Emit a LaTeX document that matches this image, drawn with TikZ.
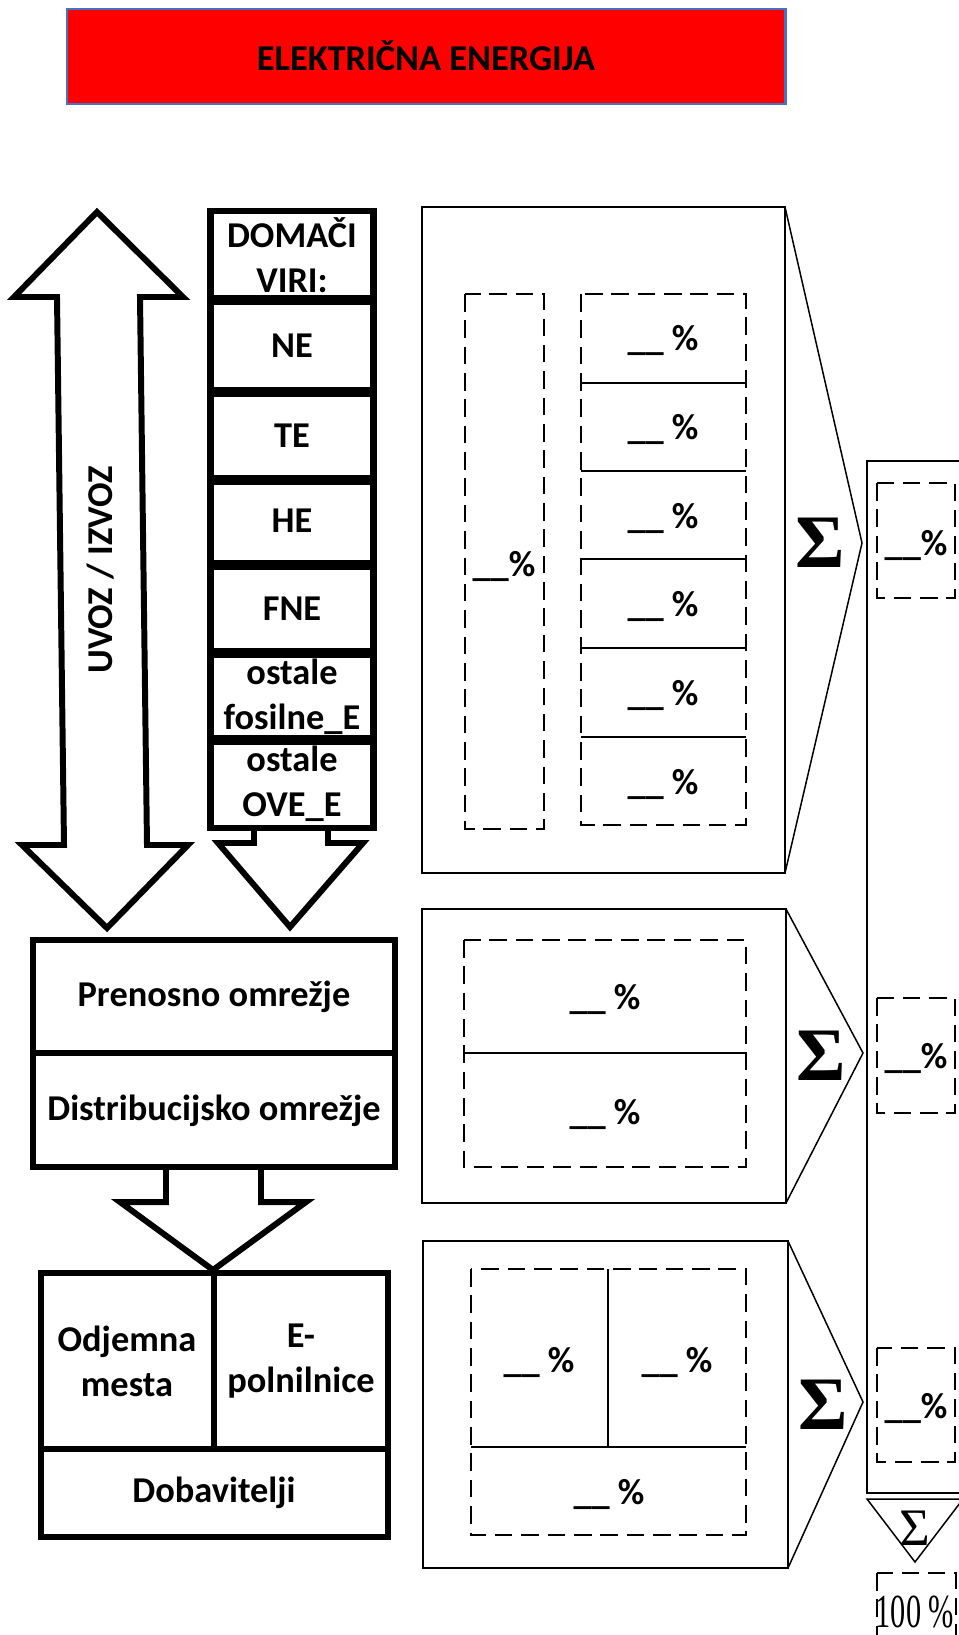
\documentclass[tikz,border=0pt]{standalone}
\usepackage{fontspec}
\setmainfont{Carlito}
\newfontfamily\timesfont{Liberation Serif}
\definecolor{titleblue}{RGB}{68,114,196}

\begin{document}
\begin{tikzpicture}[
    x=0.02cm, y=-0.02cm,
    lbl/.style={font=\fontsize{20.7}{25.5}\selectfont\bfseries, align=center, inner sep=0pt},
    col/.style={draw, line width=3.6pt},
    blockarrow/.style={draw, line width=3.4pt, line join=miter},
    panel/.style={draw, line width=1.1pt},
    chev/.style={draw, line width=0.85pt},
    dbox/.style={draw, line width=1.3pt, dash pattern=on 10pt off 5pt},
    sep/.style={draw, line width=1.1pt},
    sigma/.style={font=\timesfont\bfseries\fontsize{43}{43}\selectfont, inner sep=0pt}
]
    \useasboundingbox (0,0) rectangle (959,1635);

    % naslov
    \draw[fill=red, draw=titleblue, line width=1.7pt] (67,9) rectangle (785,104);
    \node[lbl] (naslov) at (426,56) {ELEKTRIČNA ENERGIJA};

    % uvoz / izvoz
    \draw[blockarrow] (97,212) -- (183,297) -- (140,297) -- (147,845) -- (188,845)
        -- (107,928) -- (22,845) -- (64,845) -- (57,297) -- (14,297) -- cycle;
    \node[lbl, rotate=90] (uvoz) at (101,570) {UVOZ / IZVOZ};

    % domaci viri
    \draw[col] (210.5,211) rectangle (373.5,828);
    \foreach \yy in {300,392,480,565,653,740}
        \draw[line width=5.5pt] (210.5,\yy) -- (373.5,\yy);
    \node[lbl] (domaci) at (292,255.5) {DOMAČI\\VIRI:};
    \node[lbl] (ne)     at (292,346)   {NE};
    \node[lbl] (te)     at (292,436)   {TE};
    \node[lbl] (he)     at (292,521)   {HE};
    \node[lbl] (fne)    at (292,609)   {FNE};
    \node[lbl] (fosil)  at (292,697)   {ostale\\fosilne\_E};
    \node[lbl] (ove)    at (292,784)   {ostale\\OVE\_E};
    \draw[blockarrow] (254,830) -- (254,843) -- (218,843) -- (290,927)
        -- (363,843) -- (328,843) -- (328,830);

    % omrezje
    \draw[col] (33,940) rectangle (395,1167);
    \draw[col] (33,1053) -- (395,1053);
    \node[lbl] (prenos) at (214,997)  {Prenosno omrežje};
    \node[lbl] (distr)  at (214,1111) {Distribucijsko omrežje};
    \draw[blockarrow] (166,1167) -- (166,1202) -- (120,1202) -- (213,1270)
        -- (306,1202) -- (261,1202) -- (261,1167);

    % odjem
    \draw[col] (41,1273) rectangle (388,1537);
    \draw[col] (41,1449) -- (388,1449);
    \draw[col] (214,1273) -- (214,1449);
    \node[lbl] (odjem) at (127,1361) {Odjemna\\mesta};
    \node[lbl] (polni) at (301,1361) {E-\\polnilnice};
    \node[lbl] (dobav) at (214,1493) {Dobavitelji};

    % panel 1
    \draw[panel] (422,207) rectangle (785,873);
    \draw[chev] (785,207) -- (862,543) -- (785,873);
    \node[sigma] (sig1) at (820,543) {Σ};
    \draw[dbox] (465,294) rectangle (544,829);
    \node[lbl] (vsi1) at (504,566) {\_\_\%};
    \draw[dbox] (581,294) rectangle (746,825);
    \foreach \yy in {383,471,559,648,737}
        \draw[sep] (581,\yy) -- (746,\yy);
    \foreach \yy/\nm in {341/r1, 430/r2, 518/r3, 606/r4, 695/r5, 784/r6}
        \node[lbl] (\nm) at (663,\yy) {\_\_ \%};

    % panel 2
    \draw[panel] (422,909) rectangle (786,1203);
    \draw[chev] (786,909) -- (863,1053) -- (786,1203);
    \node[sigma] (sig2) at (821,1056) {Σ};
    \draw[dbox] (464,940) rectangle (746,1167);
    \draw[sep] (464,1053) -- (746,1053);
    \node[lbl] (pr) at (605,999)  {\_\_ \%};
    \node[lbl] (di) at (605,1114) {\_\_ \%};

    % panel 3
    \draw[panel] (423,1241) rectangle (788,1568);
    \draw[chev] (788,1241) -- (863,1402) -- (788,1568);
    \node[sigma] (sig3) at (823,1405) {Σ};
    \draw[dbox] (471,1269) rectangle (746,1535);
    \draw[sep] (471,1447) -- (746,1447);
    \draw[sep] (608,1269) -- (608,1447);
    \node[lbl] (om) at (539,1362) {\_\_ \%};
    \node[lbl] (ep) at (677,1362) {\_\_ \%};
    \node[lbl] (db) at (609,1494) {\_\_ \%};

    % vsota
    \draw[panel] (980,461) -- (867,461) -- (867,1493) -- (980,1493);
    \draw[dbox] (877,483) rectangle (955,598);
    \draw[dbox] (877,998) rectangle (955,1113);
    \draw[dbox] (877,1348) rectangle (955,1462);
    \node[lbl] (v1) at (916,545)  {\_\_\%};
    \node[lbl] (v2) at (916,1058) {\_\_\%};
    \node[lbl] (v3) at (916,1408) {\_\_\%};
    \draw[chev] (867,1499) -- (915,1562) -- (963,1499) -- cycle;
    \node[inner sep=0pt, font=\timesfont\fontsize{30}{30}\selectfont] (sig4) at (915,1528) {Σ};
    \draw[dbox] (877,1573) rectangle (956,1660);
    \node[font=\timesfont\fontsize{27}{27}\selectfont, inner sep=0pt, xscale=0.64] (sto) at (915,1612) {100 \%};
\end{tikzpicture}
\end{document}
